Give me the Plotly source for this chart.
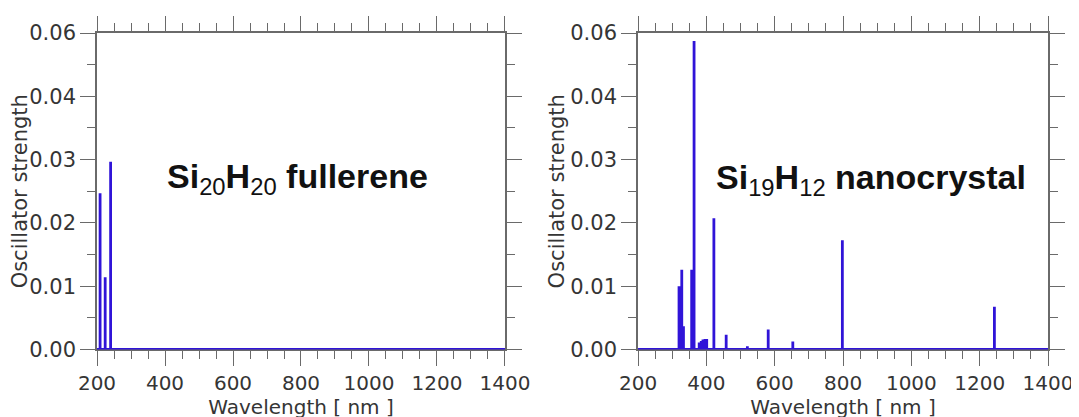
import plotly.graph_objects as go
from plotly.subplots import make_subplots

# ---------------- data (oscillator strength vs wavelength) ----------------
wl_min = 200
wl_max = 1400

fullerene_nm = [209, 224, 240, 270, 305, 335]
fullerene_f = [0.0296, 0.0137, 0.0356, 0.00015, 0.00015, 0.00015]

nanocrystal_nm = [320, 328, 333, 357, 364, 379, 385, 390, 396, 401,
                  422, 458, 520, 581, 653, 798, 1243]
nanocrystal_f = [0.0120, 0.0151, 0.0044, 0.0151, 0.0585, 0.0013, 0.0016,
                 0.0019, 0.0020, 0.0020, 0.0249, 0.0028, 0.0006, 0.0038,
                 0.0015, 0.0207, 0.0081]

y_tickvals = [0, 0.012, 0.024, 0.036, 0.048, 0.06]
y_ticktext = ["0.00", "0.01", "0.02", "0.03", "0.04", "0.06"]

labels = ["<b>Si</b><sub>20</sub><b>H</b><sub>20</sub><b> fullerene</b>",
          "<b>Si</b><sub>19</sub><b>H</b><sub>12</sub><b> nanocrystal</b>"]


def sticks(nm, f):
    # stick spectrum: each transition is a vertical line from the baseline
    xs = [wl_min]
    ys = [0]
    for x, v in sorted(zip(nm, f)):
        xs += [x, x, x]
        ys += [0, v, 0]
    xs.append(wl_max)
    ys.append(0)
    return xs, ys


blue = "#3014d8"
axis_col = "#6a6a6a"
font_col = "#353535"

fig = make_subplots(rows=1, cols=2, horizontal_spacing=0.12)

for i, (nm, f) in enumerate([(fullerene_nm, fullerene_f), (nanocrystal_nm, nanocrystal_f)]):
    xs, ys = sticks(nm, f)
    fig.add_trace(go.Scatter(x=xs, y=ys, mode="lines", cliponaxis=False,
                             line=dict(color=blue, width=2.8), showlegend=False),
                  row=1, col=i + 1)

xaxis_style = dict(
    range=[wl_min, wl_max], tickvals=list(range(200, 1401, 200)),
    showline=True, linecolor=axis_col, linewidth=1.6, mirror="ticks",
    ticks="outside", ticklen=15, tickwidth=1.4, tickcolor=axis_col,
    minor=dict(dtick=50, tick0=0, ticks="outside", ticklen=8, tickwidth=1.4, tickcolor=axis_col),
    showgrid=False, zeroline=False, layer="below traces",
    tickfont=dict(family="DejaVu Sans", size=20, color=font_col),
    title=dict(text="Wavelength [ nm ]", standoff=0,
               font=dict(family="DejaVu Sans", size=20, color=font_col)),
    automargin=False,
)
yaxis_style = dict(
    range=[0, 0.06], tickmode="array", tickvals=y_tickvals, ticktext=y_ticktext,
    showline=True, linecolor=axis_col, linewidth=1.6, mirror="ticks",
    ticks="outside", ticklen=15, tickwidth=1.4, tickcolor=axis_col,
    minor=dict(tick0=0, dtick=0.006, ticks="outside", ticklen=8, tickwidth=1.4, tickcolor=axis_col),
    showgrid=False, zeroline=False, layer="below traces",
    tickfont=dict(family="DejaVu Sans", size=21, color=font_col),
    title=dict(text="Oscillator strength", standoff=0,
               font=dict(family="DejaVu Sans", size=21, color=font_col)),
    automargin=False,
)

fig.update_xaxes(**xaxis_style)
fig.update_yaxes(**yaxis_style)

# the page body adds an 8px offset, so domains are placed 8px up/left
fig.update_layout(
    width=1079, height=417,
    margin=dict(l=0, r=0, t=0, b=0),
    paper_bgcolor="white", plot_bgcolor="white",
    xaxis=dict(domain=[0.0825, 0.4606]),
    xaxis2=dict(domain=[0.5839, 0.9639]),
    yaxis=dict(domain=[0.1811, 0.9400]),
    yaxis2=dict(domain=[0.1811, 0.9400]),
)

# labels inside the panels
fig.add_annotation(x=790, y=0.0325, xref="x", yref="y", text=labels[0], showarrow=False,
                   font=dict(family="Liberation Sans", size=34, color="#111111"))
fig.add_annotation(x=882, y=0.0322, xref="x2", yref="y2", text=labels[1], showarrow=False,
                   font=dict(family="Liberation Sans", size=34, color="#111111"))

fig.write_html("out.html")
